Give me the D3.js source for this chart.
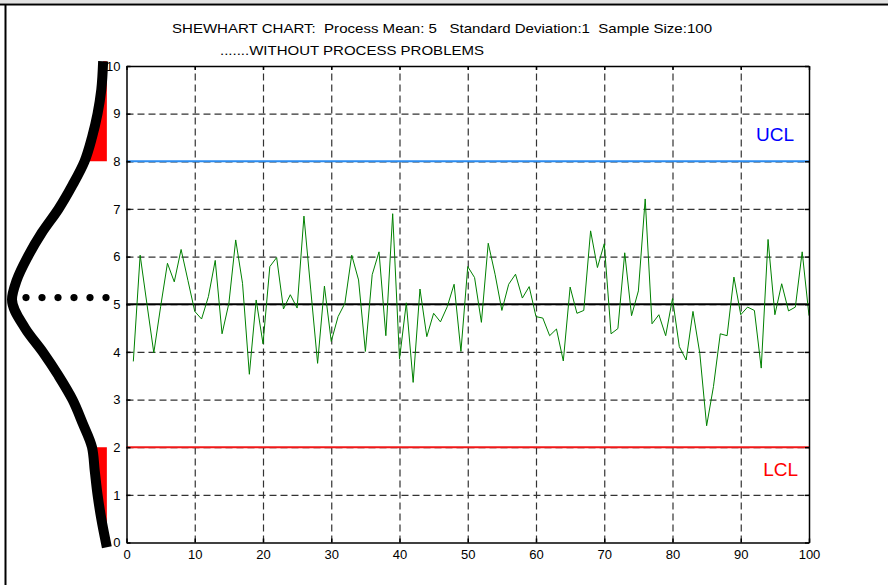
<!DOCTYPE html>
<html>
<head>
<meta charset="utf-8">
<script src="https://cdn.jsdelivr.net/npm/d3@7"></script>
<style>
  body { margin: 0; background: #fff; }
  svg { font-family: "Liberation Sans", Arial, sans-serif; }
</style>
</head>
<body>
<svg id="chart" width="888" height="585"></svg>
<script>
// sample values, samples 1..100
var samples = d3.range(1, 101);
var values = [3.80, 6.03, 5.00, 3.98, 4.95, 5.86, 5.47, 6.15, 5.50, 4.85,
              4.69, 5.16, 5.92, 4.38, 5.02, 6.35, 5.44, 3.53, 5.09, 4.17,
              5.79, 5.98, 4.90, 5.20, 4.92, 6.85, 5.30, 3.76, 5.38, 4.22,
              4.74, 5.02, 6.03, 5.51, 4.01, 5.62, 6.10, 4.34, 6.90, 3.85,
              5.03, 3.36, 5.32, 4.32, 4.81, 4.63, 4.95, 5.42, 4.01, 5.79,
              5.56, 4.62, 6.28, 5.63, 4.87, 5.42, 5.63, 5.13, 5.37, 4.74,
              4.71, 4.34, 4.48, 3.81, 5.36, 4.81, 4.87, 6.54, 5.77, 6.27,
              4.38, 4.49, 6.08, 4.76, 5.28, 7.21, 4.59, 4.78, 4.34, 5.12,
              4.11, 3.83, 4.85, 3.97, 2.45, 3.27, 4.38, 4.34, 5.57, 4.78,
              4.94, 4.87, 3.66, 6.36, 4.78, 5.43, 4.86, 4.94, 6.10, 4.76];

var processMean = 5;
var ucl = 8;
var lcl = 2;

var xTicks = [0, 10, 20, 30, 40, 50, 60, 70, 80, 90, 100];
var yTicks = [0, 1, 2, 3, 4, 5, 6, 7, 8, 9, 10];

// bell curve drawn at the left (relative width)
var bellLevels = [-0.1, 0.5, 1, 1.5, 2, 2.5, 3, 3.5, 4, 4.5, 5.1, 5.5, 6, 6.5, 7, 7.5, 8, 8.5, 9, 9.5, 10.1];
var bellWidth  = [-0.02, 0.04, 0.08, 0.11, 0.14, 0.24, 0.35, 0.5, 0.67, 0.86, 1.0, 0.95, 0.83, 0.68, 0.5, 0.35, 0.22, 0.14, 0.08, 0.04, 0.02];
var meanDots = [0, 1, 2, 3, 4, 5];

var svg = d3.select("#chart"),
    margin = { top: 66, right: 79, bottom: 42.5, left: 126.5 },
    width = +svg.attr("width") - margin.left - margin.right,
    height = +svg.attr("height") - margin.top - margin.bottom;

// page frame
svg.append("rect").attr("x", 0).attr("y", 0).attr("width", 888).attr("height", 3).attr("fill", "#e2e2e2");
svg.append("line").attr("x1", 0).attr("x2", 888).attr("y1", 4.5).attr("y2", 4.5)
    .attr("stroke", "#000").attr("stroke-width", 2);
svg.append("line").attr("x1", 5.5).attr("x2", 5.5).attr("y1", 4).attr("y2", 585)
    .attr("stroke", "#000").attr("stroke-width", 2);

var g = svg.append("g").attr("transform", "translate(" + margin.left + "," + margin.top + ")");

var x = d3.scaleLinear().domain([0, 100]).range([0, width]);
var y = d3.scaleLinear().domain([0, 10]).range([height, 0]);

// grid
g.append("g")
    .attr("class", "grid")
    .attr("transform", "translate(0," + height + ")")
    .call(d3.axisBottom(x).tickValues(xTicks.slice(1, -1)).tickSize(-height).tickFormat(""))
    .call(function (s) { s.select(".domain").remove(); });
g.append("g")
    .attr("class", "grid")
    .call(d3.axisLeft(y).tickValues(yTicks.slice(1, -1)).tickSize(-width).tickFormat(""))
    .call(function (s) { s.select(".domain").remove(); });
g.selectAll(".grid line")
    .attr("stroke", "#333")
    .attr("stroke-width", 1.2)
    .attr("stroke-dasharray", "7,4");

// control lines
g.append("line").attr("x1", 0).attr("x2", width).attr("y1", y(ucl)).attr("y2", y(ucl))
    .attr("stroke", "#2b8cf0").attr("stroke-width", 2);
g.append("line").attr("x1", 0).attr("x2", width).attr("y1", y(lcl)).attr("y2", y(lcl))
    .attr("stroke", "#f01818").attr("stroke-width", 2);
g.append("line").attr("x1", 0).attr("x2", width).attr("y1", y(processMean)).attr("y2", y(processMean))
    .attr("stroke", "#000").attr("stroke-width", 2);

// data line
var line = d3.line()
    .x(function (d, i) { return x(samples[i]); })
    .y(function (d) { return y(d); });
g.append("path")
    .datum(values)
    .attr("fill", "none")
    .attr("stroke", "#008000")
    .attr("stroke-width", 1)
    .attr("d", line);

// axes with inward ticks
function styleAxis(s) {
  s.select(".domain").attr("stroke", "#000").attr("stroke-width", 1.5);
  s.selectAll(".tick line").attr("stroke", "#000").attr("stroke-width", 1.5);
  s.selectAll("text").attr("font-size", 13).attr("fill", "#000");
}
g.append("g")
    .attr("transform", "translate(0," + height + ")")
    .call(d3.axisBottom(x).tickValues(xTicks).tickSizeInner(-4).tickSizeOuter(0).tickPadding(7))
    .call(styleAxis);
g.append("g")
    .call(d3.axisTop(x).tickValues(xTicks).tickSizeInner(-4).tickSizeOuter(0).tickFormat(""))
    .call(styleAxis);
g.append("g")
    .call(d3.axisLeft(y).tickValues(yTicks).tickSizeInner(-4).tickSizeOuter(0).tickPadding(6))
    .call(styleAxis);
g.append("g")
    .attr("transform", "translate(" + width + ",0)")
    .call(d3.axisRight(y).tickValues(yTicks).tickSizeInner(-4).tickSizeOuter(0).tickFormat(""))
    .call(styleAxis);

// labels for control limits
g.append("text").attr("x", x(100) - 15).attr("y", y(ucl) - 20)
    .attr("text-anchor", "end").attr("font-size", 19).attr("fill", "#0000ff").text("UCL");
g.append("text").attr("x", x(100) - 11).attr("y", y(lcl) + 29)
    .attr("text-anchor", "end").attr("font-size", 19).attr("fill", "#ff0000").text("LCL");

// titles
svg.append("text").attr("x", 172).attr("y", 33)
    .attr("font-size", 13).attr("textLength", 540).attr("lengthAdjust", "spacingAndGlyphs")
    .attr("xml:space", "preserve")
    .text("SHEWHART CHART:  Process Mean: 5   Standard Deviation:1  Sample Size:100");
svg.append("text").attr("x", 220).attr("y", 55)
    .attr("font-size", 13).attr("textLength", 264).attr("lengthAdjust", "spacingAndGlyphs")
    .text(".......WITHOUT PROCESS PROBLEMS");

// bell curve on the left
var yAbs = function (v) { return margin.top + y(v); };
var bellX = d3.scaleLinear().domain([0, 1]).range([105, 12]);
var bell = bellLevels.map(function (v, i) { return { v: v, w: bellWidth[i] }; });

var tailArea = d3.area()
    .curve(d3.curveMonotoneY)
    .y(function (d) { return yAbs(d.v); })
    .x0(function (d) { return bellX(d.w); })
    .x1(bellX(-0.02));
svg.append("path")
    .datum(bell.filter(function (d) { return d.v >= ucl; }))
    .attr("fill", "#ff0000").attr("d", tailArea);
svg.append("path")
    .datum(bell.filter(function (d) { return d.v <= lcl; }))
    .attr("fill", "#ff0000").attr("d", tailArea);

svg.append("path")
    .datum(bell)
    .attr("fill", "none")
    .attr("stroke", "#000")
    .attr("stroke-width", 10)
    .attr("d", d3.line().curve(d3.curveMonotoneY)
        .x(function (d) { return bellX(d.w); })
        .y(function (d) { return yAbs(d.v); }));

var dotX = d3.scalePoint().domain(meanDots).range([26, 106]);
svg.selectAll(".meandot")
    .data(meanDots)
    .enter().append("circle")
    .attr("class", "meandot")
    .attr("cx", function (d) { return dotX(d); })
    .attr("cy", yAbs(5.14))
    .attr("r", 3.6)
    .attr("fill", "#000");
</script>
</body>
</html>
